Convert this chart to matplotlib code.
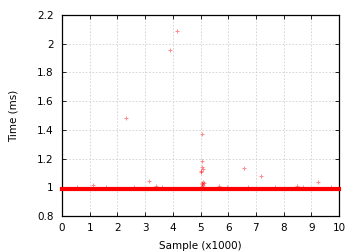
import matplotlib
matplotlib.use("Agg")
import matplotlib.pyplot as plt

# baseline band (dense samples at ~0.987 ms)
base_x = [0.0, 10.0]
base_y = [0.987, 0.987]

# outlier samples (x1000, ms)
out_x = [0.55, 1.13, 1.60, 2.31, 2.60, 3.15, 3.39, 3.60, 3.90, 4.16,
         5.02, 5.03, 5.04, 5.05, 5.06, 5.08, 5.04, 5.06, 5.08, 5.10, 5.12, 5.05,
         5.68, 5.95, 6.57, 6.70, 7.19, 7.70, 8.49, 8.70, 9.25, 9.70]
out_y = [1.005, 1.014, 1.004, 1.48, 1.005, 1.044, 1.007, 1.004, 1.955, 2.087,
         1.11, 1.105, 1.14, 1.37, 1.183, 1.125, 1.03, 1.02, 1.035, 1.015, 1.028, 1.01,
         1.008, 1.004, 1.132, 1.004, 1.079, 1.004, 1.007, 1.004, 1.039, 1.004]

xticks = [0, 1, 2, 3, 4, 5, 6, 7, 8, 9, 10]
yticks = [0.8, 1.0, 1.2, 1.4, 1.6, 1.8, 2.0, 2.2]
ytick_labels = ["0.8", "1", "1.2", "1.4", "1.6", "1.8", "2", "2.2"]

plt.rcParams['font.family'] = ['DejaVu Sans']
fig = plt.figure(figsize=(3.6, 2.52), dpi=100)
ax = fig.add_axes([62/360, 1-216/252, (339-62)/360, (216-15)/252])

ax.plot(base_x, base_y, color='#ff0000', lw=3.0, solid_capstyle='projecting',
        clip_on=False, zorder=3)
ax.plot(out_x, out_y, ls='none', marker='+', ms=3.5, mew=0.7,
        color='#ff0000', alpha=0.45, zorder=2)

ax.set_xlim(0, 10)
ax.set_ylim(0.8, 2.2)
ax.set_xticks(xticks)
ax.set_yticks(yticks)
ax.set_yticklabels(ytick_labels)
ax.grid(True, color='#d0d0d0', ls=(0, (2, 2)), lw=0.6)
ax.tick_params(direction='in', top=True, right=True, length=3, width=0.6,
               labelsize=7.5, colors='black', pad=5)
ax.tick_params(axis='y', pad=6)
for s in ax.spines.values():
    s.set_linewidth(0.9)

ax.set_xlabel("Sample (x1000)", fontsize=7.5, labelpad=6)
ax.set_ylabel("Time (ms)", fontsize=7.5, labelpad=13)

fig.savefig("out.png", dpi=100)
